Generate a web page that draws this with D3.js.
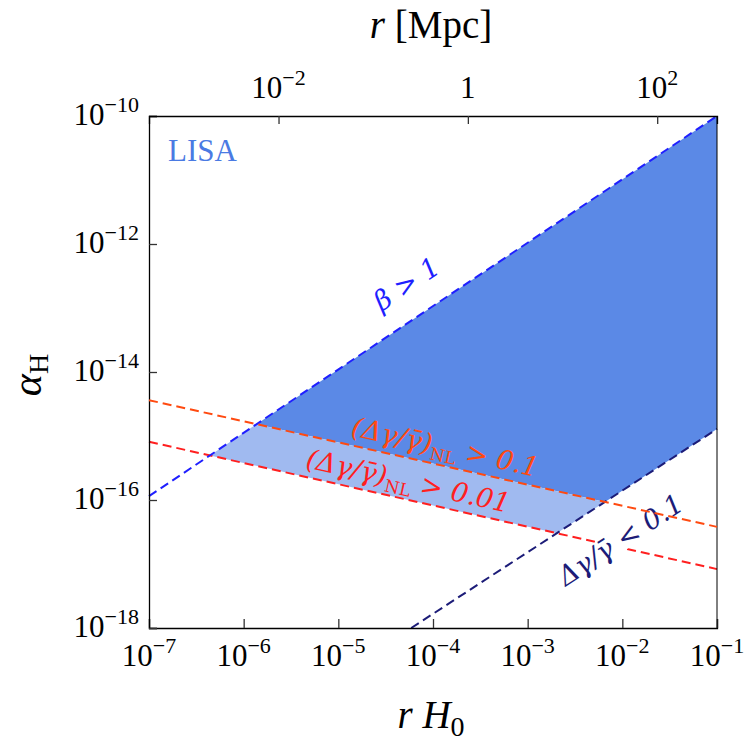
<!DOCTYPE html>
<html>
<head>
<meta charset="utf-8">
<script src="https://cdn.jsdelivr.net/npm/d3@7"></script>
<style>
  body { margin: 0; background: #fff; }
  text { font-family: "Liberation Serif", "DejaVu Serif", serif; }
</style>
</head>
<body>
<svg width="750" height="746"></svg>
<script>
(function (d3) {
  "use strict";

  // ---- data ----
  const xTicks = [1e-7, 1e-6, 1e-5, 1e-4, 1e-3, 1e-2, 1e-1];
  const xTickExp = ["−7", "−6", "−5", "−4", "−3", "−2", "−1"];
  const yTicks = [1e-10, 1e-12, 1e-14, 1e-16, 1e-18];
  const yTickExp = ["−10", "−12", "−14", "−16", "−18"];
  const topTicks = [1e-2, 1, 1e2];
  const topTickExp = ["−2", "", "2"];
  const hubbleMpc = 4283; // c/H0 in Mpc

  // constraint lines: [rH0, alphaH] endpoints
  const betaLine = [[1e-7, Math.pow(10, -15.94)], [1e-1, 1e-10]];
  const nl01Line = [[1e-7, Math.pow(10, -14.44)], [1e-1, Math.pow(10, -16.42)]];
  const nl001Line = [[1e-7, Math.pow(10, -15.09)], [1e-1, Math.pow(10, -17.08)]];
  const linLine = [[Math.pow(10, -4.23), 1e-18], [1e-1, Math.pow(10, -14.89)]];

  const svg = d3.select("svg");
  const margin = { top: 116, right: 33, bottom: 118, left: 149 };
  const innerWidth = 750 - margin.left - margin.right;
  const innerHeight = 746 - margin.top - margin.bottom;

  const xScale = d3.scaleLog().domain([1e-7, 1e-1]).range([0, innerWidth]);
  const yScale = d3.scaleLog().domain([1e-18, 1e-10]).range([innerHeight, 0]);
  const xTopScale = d3.scaleLog()
    .domain([1e-7 * hubbleMpc, 1e-1 * hubbleMpc])
    .range([0, innerWidth]);

  const g = svg.append("g")
    .attr("transform", `translate(${margin.left},${margin.top})`);

  // helpers in log space
  const lg = (p) => [Math.log10(p[0]), Math.log10(p[1])];
  const lineCoef = (l) => {
    const a = lg(l[0]), b = lg(l[1]);
    const m = (b[1] - a[1]) / (b[0] - a[0]);
    return { m, c: a[1] - m * a[0] };
  };
  const intersect = (l1, l2) => {
    const A = lineCoef(l1), B = lineCoef(l2);
    const lx = (B.c - A.c) / (A.m - B.m);
    return [Math.pow(10, lx), Math.pow(10, A.m * lx + A.c)];
  };
  const valueAt = (l, xv) => {
    const A = lineCoef(l);
    return Math.pow(10, A.m * Math.log10(xv) + A.c);
  };

  const bO = intersect(betaLine, nl01Line);
  const bR = intersect(betaLine, nl001Line);
  const nO = intersect(linLine, nl01Line);
  const nR = intersect(linLine, nl001Line);

  const darkRegion = [bO, betaLine[1], [1e-1, valueAt(linLine, 1e-1)], nO];
  const lightRegion = [bO, nO, nR, bR];

  const path = d3.line().x((d) => xScale(d[0])).y((d) => yScale(d[1]));

  g.append("path").attr("d", path(darkRegion) + "Z").attr("fill", "#5b89e6");
  g.append("path").attr("d", path(lightRegion) + "Z").attr("fill", "#a0baf0");

  const dashed = (data, color) =>
    g.append("path")
      .attr("d", path(data))
      .attr("fill", "none")
      .attr("stroke", color)
      .attr("stroke-width", 2)
      .attr("stroke-dasharray", "9,5");

  dashed(nl001Line, "#ff1f1f");
  dashed(linLine, "#1c1c78");
  dashed(betaLine, "#1f1fff");

  // axes
  const xAxis = d3.axisBottom(xScale).tickValues(xTicks).tickSize(-9).tickFormat("");
  const yAxis = d3.axisLeft(yScale).tickValues(yTicks).tickSize(-8).tickFormat("");
  const topAxis = d3.axisTop(xTopScale).tickValues(topTicks).tickSize(-8).tickFormat("");

  const xAxisG = g.append("g").attr("transform", `translate(0,${innerHeight})`).call(xAxis);
  const yAxisG = g.append("g").call(yAxis);
  const topAxisG = g.append("g").call(topAxis);
  g.append("line")
    .attr("x1", innerWidth).attr("x2", innerWidth)
    .attr("y1", 0).attr("y2", innerHeight)
    .attr("stroke", "#000");

  [xAxisG, yAxisG, topAxisG].forEach((a) => {
    a.selectAll(".domain").attr("stroke", "#000").attr("stroke-width", 1.3);
    a.selectAll(".tick line").attr("stroke", "#333").attr("stroke-width", 1.3);
  });

  const powLabel = (sel, x, y, exp, anchor) => {
    const t = sel.append("text")
      .attr("x", x).attr("y", y)
      .attr("text-anchor", anchor)
      .attr("font-size", 31)
      .attr("fill", "#000");
    if (exp === "") {
      t.text("1");
      return;
    }
    t.append("tspan").text("10");
    t.append("tspan").attr("dy", -13).attr("font-size", 22).text(exp);
  };

  xTicks.forEach((v, i) =>
    powLabel(g, xScale(v), innerHeight + 38, xTickExp[i], "middle"));
  yTicks.forEach((v, i) =>
    powLabel(g, -10, yScale(v) + 9, yTickExp[i], "end"));
  topTicks.forEach((v, i) =>
    powLabel(g, xTopScale(v), -18, topTickExp[i], "middle"));

  // axis titles
  const top = g.append("text")
    .attr("x", innerWidth / 2 - 2).attr("y", -78)
    .attr("text-anchor", "middle").attr("font-size", 39);
  top.append("tspan").attr("font-style", "italic").text("r");
  top.append("tspan").text(" [Mpc]");

  const bottom = g.append("text")
    .attr("x", innerWidth / 2 - 2).attr("y", innerHeight + 100)
    .attr("text-anchor", "middle").attr("font-size", 39);
  bottom.append("tspan").attr("font-style", "italic").text("r H");
  bottom.append("tspan").attr("dy", 8).attr("font-size", 28).text("0");

  const left = g.append("text")
    .attr("transform", `translate(${-108},${innerHeight / 2 + 3}) rotate(-90)`)
    .attr("text-anchor", "middle").attr("font-size", 42);
  left.append("tspan").attr("font-style", "italic").text("α");
  left.append("tspan").attr("dy", 7).attr("font-size", 28).text("H");

  g.append("text")
    .attr("x", 19).attr("y", 45)
    .attr("font-size", 31)
    .attr("fill", "#4a7ae3")
    .text("LISA");

  // rotated line labels
  const angleOf = (l) => {
    const dx = xScale(l[1][0]) - xScale(l[0][0]);
    const dy = yScale(l[1][1]) - yScale(l[0][1]);
    return Math.atan2(dy, dx) * 180 / Math.PI;
  };

  const lineLabel = (pos, l, color, build, box) => {
    const gl = g.append("g")
      .attr("transform",
        `translate(${xScale(pos[0])},${yScale(pos[1])}) rotate(${angleOf(l)})`);
    const t = gl.append("text")
      .attr("text-anchor", "middle")
      .attr("dy", "0.35em")
      .attr("font-size", 27)
      .attr("font-style", "italic")
      .style("font-family", "'DejaVu Serif', serif")
      .style("font-weight", 300)
      .attr("fill", color);
    build(t);
    if (box) {
      const bb = t.node().getBBox();
      gl.insert("rect", "text")
        .attr("x", bb.x - 2).attr("y", bb.y + 4)
        .attr("width", bb.width + 4).attr("height", bb.height - 8)
        .attr("fill", "#fff");
    }
  };

  const nlText = (value) => (t) => {
    t.append("tspan").text("(Δγ/γ\u0304)");
    t.append("tspan").attr("dy", 6).attr("font-size", 17).attr("font-style", "normal").text("NL");
    t.append("tspan").attr("dy", -6).text(" > " + value);
  };

  lineLabel([Math.pow(10, -4.28), Math.pow(10, -12.62)], betaLine, "#1f1fff",
    (t) => t.text("β > 1"), false);
  lineLabel([Math.pow(10, -2.02), Math.pow(10, -16.62)], linLine, "#1c1c78",
    (t) => t.text("Δγ/γ\u0304 < 0.1"), true);

  dashed(nl01Line, "#ff4a10");

  lineLabel([Math.pow(10, -3.87), Math.pow(10, -15.17)], nl01Line, "#ff4a10",
    nlText("0.1"), false);
  lineLabel([Math.pow(10, -4.26), Math.pow(10, -15.70)], nl001Line, "#ff1f1f",
    nlText("0.01"), false);
})(d3);
</script>
</body>
</html>
